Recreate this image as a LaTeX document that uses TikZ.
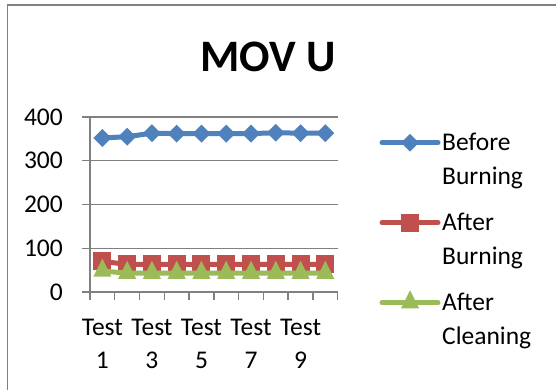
\documentclass[tikz,border=0pt]{standalone}
\usepackage{fontspec}
\setmainfont{Carlito}
\usetikzlibrary{shapes.geometric}
\definecolor{serBlue}{HTML}{4F81BD}
\definecolor{serRed}{HTML}{C0504D}
\definecolor{serGreen}{HTML}{9BBB59}
\definecolor{gridGray}{HTML}{808080}
\newcommand{\ValY}[1]{292-0.4375*#1}
\newcommand{\CatX}[1]{90+24.77*(#1-0.5)}
\tikzstyle{gridline} = [draw=gridGray, line width=1.4pt]
\tikzstyle{lbl} = [inner sep=0pt, font=\fontsize{25.5}{30}\selectfont]
\tikzstyle{serline} = [line width=5pt, line cap=round, line join=round]
\tikzstyle{diam} = [diamond, fill=serBlue, minimum width=18pt, minimum height=18pt, inner sep=0pt]
\tikzstyle{sqr} = [rectangle, fill=serRed, minimum size=18pt, inner sep=0pt]
\tikzstyle{tri} = [isosceles triangle, shape border rotate=90, isosceles triangle stretches, fill=serGreen, minimum width=18pt, minimum height=18pt, inner sep=0pt]

\begin{document}
\begin{tikzpicture}[x=1pt, y=-1pt]
\useasboundingbox (0,0) rectangle (556,390);
\clip (0,0) rectangle (556,390);
\fill[white] (0,0) rectangle (556,390);
\draw[gridline] (7.5,5) rectangle (570,400);

% Title
\node[inner sep=0pt, anchor=base, font=\fontsize{45}{54}\selectfont\bfseries] (title) at (268,71.7) {MOV U};

% Grid and axes
\foreach \v in {0,100,...,400}{
  \draw[gridline] (82,{\ValY{\v}}) -- (337.7,{\ValY{\v}});
  \node[lbl, anchor=east] (y\v) at (63,{\ValY{\v}}) {\v};
}
\draw[gridline] (90,{\ValY{400}}) -- (90,300);
\foreach \i in {1,...,10}
  \draw[gridline] ({90+24.77*\i},292) -- ({90+24.77*\i},300);
\foreach \i in {1,3,...,9}{
  \node[lbl, anchor=base] (t\i) at ({\CatX{\i}},335) {Test};
  \node[lbl, anchor=base] (n\i) at ({\CatX{\i}},368) {\i};
}

% Data points
\foreach \v [count=\i] in {352,355,363,362,362,362,362,364,363,363}
  \coordinate (b\i) at ({\CatX{\i}},{\ValY{\v}});
\foreach \v [count=\i] in {70,63,63,63,63,63,63,63,63,63}
  \coordinate (r\i) at ({\CatX{\i}},{\ValY{\v}});
\foreach \v [count=\i] in {48,43,43,43,43,43,43,43,43,43}
  \coordinate (g\i) at ({\CatX{\i}},{\ValY{\v}});

% Series
\draw[serline, serBlue] (b1) \foreach \i in {2,...,10}{ -- (b\i) };
\foreach \i in {1,...,10} \node[diam] at (b\i) {};
\draw[serline, serRed] (r1) \foreach \i in {2,...,10}{ -- (r\i) };
\foreach \i in {1,...,10} \node[sqr] at (r\i) {};
\draw[serline, serGreen] (g1) \foreach \i in {2,...,10}{ -- (g\i) };
\foreach \i in {1,...,10} \node[tri] at (g\i) {};

% Legend
\coordinate (la) at (382,142.7);  \coordinate (lb) at (438,142.7);
\coordinate (lc) at (382,222.7);  \coordinate (ld) at (438,222.7);
\coordinate (le) at (382,302.7);  \coordinate (lf) at (438,302.7);
\draw[serline, serBlue]  (la) -- (lb);
\draw[serline, serRed]   (lc) -- (ld);
\draw[serline, serGreen] (le) -- (lf);
\node[diam] (kb) at (410,142.7) {};
\node[sqr]  (kr) at (410,222.7) {};
\node[tri]  (kg) at (410,302.7) {};
\node[lbl, anchor=base west] (lb1) at (442,150.7) {Before};
\node[lbl, anchor=base west] (lb2) at (442,184.7) {Burning};
\node[lbl, anchor=base west] (lr1) at (442,230.7) {After};
\node[lbl, anchor=base west] (lr2) at (442,264.7) {Burning};
\node[lbl, anchor=base west] (lg1) at (442,310.7) {After};
\node[lbl, anchor=base west] (lg2) at (442,344.7) {Cleaning};
\end{tikzpicture}
\end{document}
